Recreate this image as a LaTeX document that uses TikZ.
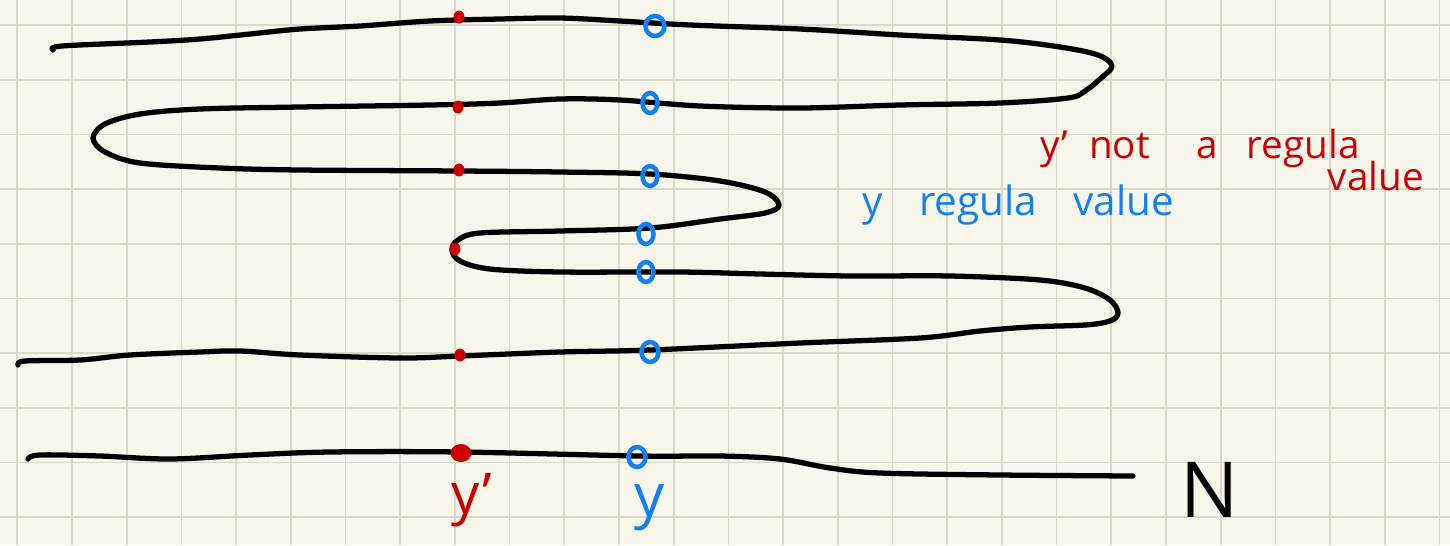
\documentclass[tikz,border=0pt]{standalone}
\usepackage{fontspec}
\setmainfont{Open Sans}
\definecolor{paper}{RGB}{248,246,234}
\definecolor{gridgray}{RGB}{216,216,203}
\definecolor{inkred}{RGB}{204,0,0}
\definecolor{inkblue}{RGB}{18,128,240}
\usetikzlibrary{shapes.geometric}

\begin{document}
\begin{tikzpicture}[x=0.02cm, y=-0.02cm,
  ink/.style={line width=3pt, line cap=round, line join=round},
  reddot/.style={ellipse, fill=inkred, inner sep=0pt, minimum width=0.22cm, minimum height=0.26cm},
  blueo/.style={ellipse, draw=inkblue, line width=2.6pt, inner sep=0pt, minimum width=0.3cm, minimum height=0.4cm},
  redlabel/.style={text=inkred, font=\fontsize{22}{26}\selectfont, inner sep=0pt},
  bluelabel/.style={text=inkblue, font=\fontsize{23}{27}\selectfont, inner sep=0pt}]
  \useasboundingbox (0,0) rectangle (1450,545);
  \fill[paper] (0,0) rectangle (1450,545);
  % Grid paper
  \foreach \gx in {0,...,26}
    \draw[gridgray, line width=1pt] ({17.3+54.7*\gx},0) -- ({17.3+54.7*\gx},545);
  \foreach \gy in {0,...,9}
    \draw[gridgray, line width=1pt] (0,{25+54.7*\gy}) -- (1450,{25+54.7*\gy});
  % The folded curve
  \draw[ink] plot[smooth, tension=0.55] coordinates {
    (53,50) (62,46) (150,42) (200,39) (250,34) (300,29) (360,26) (430,21)
    (500,19) (560,18) (620,21) (690,25) (800,29) (900,35) (1000,40) (1060,47)
    (1098,55) (1112,66) (1100,79) (1085,91) (1068,98) (1000,103) (900,105)
    (800,108) (700,106) (620,100) (560,99) (500,103) (430,105) (300,107)
    (200,109) (140,114) (105,124) (93,138) (105,152) (140,163) (220,168)
    (300,170) (460,171) (560,172) (650,174) (720,181) (765,192) (779,205)
    (765,213) (720,219) (650,228) (560,231) (480,233) (458,240) (452,250)
    (460,261) (490,269) (560,272) (680,272) (760,274) (850,276) (950,276)
    (1040,280) (1085,288) (1110,300) (1118,313) (1110,321) (1085,325)
    (1030,327) (980,331) (920,338) (800,343) (650,350) (560,352) (460,356)
    (400,358) (300,355) (240,351) (200,352) (130,355) (80,360) (25,361) (18,365)};
  % Bottom sheet
  \draw[ink] plot[smooth, tension=0.55] coordinates {
    (28,459) (40,455) (100,456) (170,459) (250,455) (330,452) (460,452)
    (640,456) (720,456) (780,459) (830,468) (880,473) (1000,475) (1133,476)};
  % Preimages of y'
  \node[reddot] (r1) at (459,17) {};
  \node[reddot] (r2) at (458,107) {};
  \node[reddot] (r3) at (459,170) {};
  \node[reddot] (r4) at (455,249) {};
  \node[reddot] (r5) at (460,355) {};
  \node[reddot, minimum width=0.42cm, minimum height=0.36cm] (r6) at (461,453) {};
  % Preimages of y
  \node[blueo, minimum width=0.38cm] (b1) at (655,26) {};
  \node[blueo] (b2) at (650,103) {};
  \node[blueo] (b3) at (650,176) {};
  \node[blueo] (b4) at (646,234) {};
  \node[blueo] (b5) at (646,272) {};
  \node[blueo, minimum width=0.34cm] (b6) at (650,352) {};
  \node[blueo, minimum width=0.34cm] (b7) at (637,457) {};
  % Labels
  \node[redlabel, anchor=west] (notreg) at (1040,148) {y'\hspace{0.55em}not\hspace{1.2em}a\hspace{0.75em}regula};
  \node[redlabel] (notregval) at (1376,176) {value};
  \node[bluelabel, anchor=west] (reg) at (862,205) {y\hspace{0.9em}regula\hspace{0.9em}value};
  \node[text=inkred, font=\fontsize{32}{36}\selectfont] (yprime) at (472,500) {y'};
  \node[text=inkblue, font=\fontsize{34}{38}\selectfont] (ylab) at (650,508) {y};
  \node[font=\fontsize{44}{50}\selectfont] (N) at (1210,490) {N};
\end{tikzpicture}
\end{document}
